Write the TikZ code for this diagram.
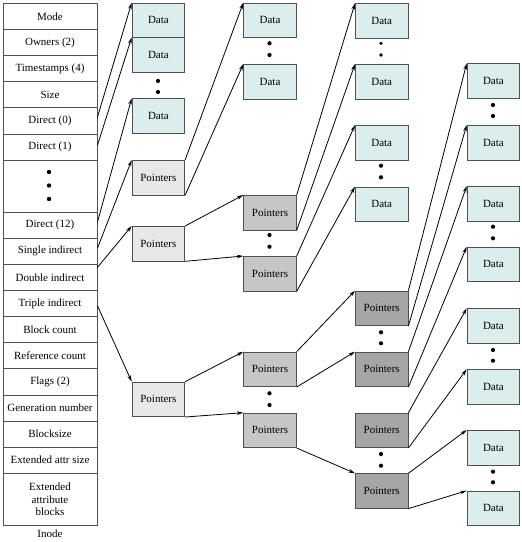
\documentclass[tikz,border=0pt]{standalone}
\usepackage{fontspec}
\setmainfont{Liberation Serif}
\usetikzlibrary{arrows.meta}
\definecolor{bordercol}{HTML}{505050}
\definecolor{datafill}{HTML}{DCEDED}
\definecolor{ptrA}{HTML}{E8E8E8}
\definecolor{ptrB}{HTML}{C6C6C6}
\definecolor{ptrC}{HTML}{A6A6A6}
\tikzset{
  txt/.style={font=\fontsize{11}{12.3}\selectfont},
  cell/.style={txt, draw=bordercol, line width=0.8pt, minimum width=94pt, minimum height=26.1pt, inner sep=0pt, anchor=north, align=center},
  blk/.style={txt, draw=bordercol, line width=0.8pt, minimum width=52.6pt, minimum height=34.5pt, inner sep=0pt, anchor=north west},
  databox/.style={blk, fill=datafill},
  ptra/.style={blk, fill=ptrA},
  ptrb/.style={blk, fill=ptrB},
  ptrc/.style={blk, fill=ptrC},
  link/.style={line width=0.8pt, -{Stealth[length=6.5pt,width=3.6pt]}},
  dot/.style={fill=black},
}
\begin{document}
\begin{tikzpicture}[x=1pt,y=-1pt]
\useasboundingbox (0,0) rectangle (522,542);
% Inode
\node[cell] (mode) at (50,3) {Mode};
\node[cell] (own) at (50,29.1) {Owners (2)};
\node[cell] (ts) at (50,55.2) {Timestamps (4)};
\node[cell] (size) at (50,81.3) {Size};
\node[cell] (d0) at (50,107.4) {Direct (0)};
\node[cell] (d1) at (50,133.5) {Direct (1)};
\node[cell, minimum height=52.2pt] (ddots) at (50,159.6) {};
\node[cell] (d12) at (50,211.8) {Direct (12)};
\node[cell] (single) at (50,237.9) {Single indirect};
\node[cell] (double) at (50,264) {Double indirect};
\node[cell] (triple) at (50,290.1) {Triple indirect};
\node[cell] (bc) at (50,316.2) {Block count};
\node[cell] (rc) at (50,342.3) {Reference count};
\node[cell] (flags) at (50,368.4) {Flags (2)};
\node[cell] (gen) at (50,394.5) {Generation number};
\node[cell] (bs) at (50,420.6) {Blocksize};
\node[cell] (eas) at (50,446.7) {Extended attr size};
\node[cell, minimum height=52.2pt] (eab) at (50,472.8) {Extended\\attribute\\blocks};
\node[txt] (inode) at (50,533.5) {Inode};
\foreach \y in {172,185.5,199} \fill[dot] (49,\y) circle (2.2pt);

% Column 1
\node[databox] (a1) at (131.7,2.7) {Data};
\node[databox] (a2) at (131.7,37.3) {Data};
\node[databox] (a3) at (131.7,98.3) {Data};
\node[ptra] (ps) at (131.7,160) {Pointers};
\node[ptra] (pd) at (131.7,226) {Pointers};
\node[ptra] (pt) at (131.7,381.7) {Pointers};

% Column 2
\node[databox] (b1) at (243.3,2.7) {Data};
\node[databox] (b2) at (243.3,64) {Data};
\node[ptrb] (bp1) at (243.3,195) {Pointers};
\node[ptrb] (bp2) at (243.3,256) {Pointers};
\node[ptrb] (bp3) at (243.3,351.7) {Pointers};
\node[ptrb] (bp4) at (243.3,412.7) {Pointers};

% Column 3
\node[databox] (c1) at (355,3.3) {Data};
\node[databox] (c2) at (355,64) {Data};
\node[databox] (c3) at (355,125) {Data};
\node[databox] (c4) at (355,186.7) {Data};
\node[ptrc] (cp1) at (355,290.7) {Pointers};
\node[ptrc] (cp2) at (355,351.7) {Pointers};
\node[ptrc] (cp3) at (355,412.7) {Pointers};
\node[ptrc] (cp4) at (355,473.3) {Pointers};

% Column 4
\node[databox] (e1) at (466.7,63.3) {Data};
\node[databox] (e2) at (466.7,125) {Data};
\node[databox] (e3) at (466.7,186) {Data};
\node[databox] (e4) at (466.7,246.7) {Data};
\node[databox] (e5) at (466.7,308.3) {Data};
\node[databox] (e6) at (466.7,369.3) {Data};
\node[databox] (e7) at (466.7,430) {Data};
\node[databox] (e8) at (466.7,490.7) {Data};

% Dots
\foreach \x/\y in {158/81, 158/92,
  269.5/43.3, 269.5/55, 269.5/235, 269.5/246.7, 269.5/393.3, 269.5/405,
  381/165.7, 381/177.3, 381/332.3, 381/343.3, 381/454, 381/465.7,
  493/105, 493/116, 493/226.7, 493/238.3, 493/350, 493/360.7, 493/471.7, 493/482.3}
  \fill[dot] (\x,\y) circle (2.1pt);
\foreach \y in {43.3,55} \fill[dot] (381,\y) circle (1.8pt);

% Arrows from inode
\draw[link] ([yshift=3.5pt]d0.east) -- (a1.north west);
\draw[link] ([yshift=1.5pt]d1.east) -- (a2.north west);
\draw[link] ([yshift=3pt]d12.east) -- (a3.north west);
\draw[link] ([yshift=3pt]single.east) -- (ps.north west);
\draw[link] ([yshift=10pt]double.east) -- (pd.north west);
\draw[link] ([yshift=-2pt]triple.east) -- (pt.north west);

% Single indirect
\draw[link] (ps.north east) -- (b1.north west);
\draw[link] (ps.south east) -- (b2.north west);
% Double indirect
\draw[link] (pd.north east) -- (bp1.north west);
\draw[link] (pd.south east) -- (bp2.north west);
\draw[link] (bp1.north east) -- (c1.north west);
\draw[link] (bp1.south east) -- (c2.north west);
\draw[link] (bp2.north east) -- (c3.north west);
\draw[link] (bp2.south east) -- (c4.north west);
% Triple indirect
\draw[link] (pt.north east) -- (bp3.north west);
\draw[link] (pt.south east) -- (bp4.north west);
\draw[link] (bp3.north east) -- (cp1.north west);
\draw[link] (bp3.south east) -- (cp2.north west);
\draw[link] (bp4.south east) -- (cp4.north west);
\draw[link] (cp1.north east) -- (e1.north west);
\draw[link] (cp1.south east) -- (e2.north west);
\draw[link] (cp2.north east) -- (e3.north west);
\draw[link] (cp2.south east) -- (e4.north west);
\draw[link] (cp3.north east) -- (e5.north west);
\draw[link] (cp3.south east) -- (e6.north west);
\draw[link] (cp4.north east) -- (e7.north west);
\draw[link] (cp4.south east) -- (e8.north west);
\end{tikzpicture}
\end{document}
